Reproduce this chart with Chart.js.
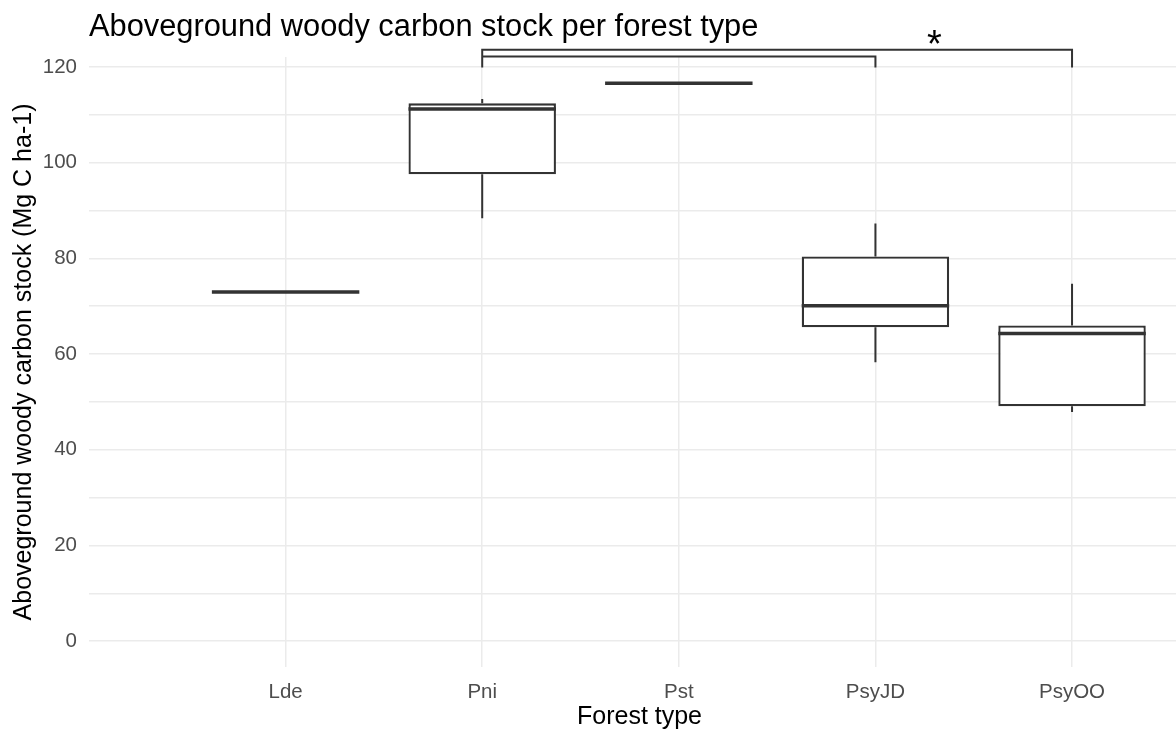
<!DOCTYPE html>
<html>
<head>
<meta charset="utf-8">
<script src="https://cdn.jsdelivr.net/npm/chart.js@4.4.1/dist/chart.umd.min.js"></script>
<style>
    html, body { margin: 0; padding: 0; background: #ffffff; overflow: hidden; }
</style>
</head>
<body>
<canvas id="chart" width="1190" height="731"></canvas>
<script>
// data
const categories = ["Lde", "Pni", "Pst", "PsyJD", "PsyOO"];
const whiskerLow = [73.0, 88.4, 116.6, 58.3, 47.9];
const boxLow = [73.0, 97.6, 116.6, 65.6, 49.1];
const medians = [73.0, 111.2, 116.6, 70.1, 64.3];
const boxHigh = [73.0, 112.4, 116.6, 80.4, 66.0];
const whiskerHigh = [73.0, 113.3, 116.6, 87.3, 74.7];
const yTicks = [0, 10, 20, 30, 40, 50, 60, 70, 80, 90, 100, 110, 120];

// significance brackets: [from, to, bar level, leg end]
const brackets = [
    ["Pni", "PsyJD", 122.2, 119.9],
    ["Pni", "PsyOO", 123.6, 119.9],
];
const sigText = "*";
const sigPos = [4.3, 126.7];

const FONT = '"Liberation Sans", Arial, sans-serif';
const DARK = "#333333";
const GRID = "#EBEBEB";
const BOX_WIDTH = 0.75;

Chart.defaults.font.family = FONT;

const pos = (name) => categories.indexOf(name) + 1;

const boxData = categories.map((c, i) => ({ x: i + 1, y: [boxLow[i], boxHigh[i]] }));

const whiskerData = [];
categories.forEach((c, i) => {
    whiskerData.push({ x: i + 1, y: whiskerLow[i] }, { x: i + 1, y: boxLow[i] }, { x: i + 1, y: null });
    whiskerData.push({ x: i + 1, y: boxHigh[i] }, { x: i + 1, y: whiskerHigh[i] }, { x: i + 1, y: null });
});

const medianData = [];
categories.forEach((c, i) => {
    medianData.push(
        { x: i + 1 - BOX_WIDTH / 2, y: medians[i] },
        { x: i + 1 + BOX_WIDTH / 2, y: medians[i] },
        { x: i + 1, y: null }
    );
});

const bracketData = [];
brackets.forEach((b) => {
    const a = pos(b[0]);
    const z = pos(b[1]);
    bracketData.push({ x: a, y: b[3] }, { x: a, y: b[2] }, { x: z, y: b[2] }, { x: z, y: b[3] }, { x: z, y: null });
});

const sigPlugin = {
    id: "sigLabel",
    afterDatasetsDraw(chart) {
        const { ctx, scales } = chart;
        const size = 38;
        ctx.save();
        ctx.font = size + "px " + FONT;
        ctx.fillStyle = "#000000";
        ctx.textAlign = "center";
        ctx.textBaseline = "alphabetic";
        ctx.fillText(
            sigText,
            scales.x.getPixelForValue(sigPos[0]),
            scales.y.getPixelForValue(sigPos[1]) + size * 0.57
        );
        ctx.restore();
    },
};

const lineStyle = {
    type: "line",
    borderColor: DARK,
    pointRadius: 0,
    spanGaps: false,
    tension: 0,
    fill: false,
};

new Chart(document.getElementById("chart"), {
    type: "bar",
    data: {
        datasets: [
            { ...lineStyle, label: "whiskers", data: whiskerData, borderWidth: 2, order: 3 },
            {
                label: "boxes",
                data: boxData,
                backgroundColor: "#ffffff",
                borderColor: DARK,
                borderWidth: 2.3,
                borderSkipped: false,
                barPercentage: BOX_WIDTH,
                categoryPercentage: 1,
                order: 2,
            },
            { ...lineStyle, label: "medians", data: medianData, borderWidth: 3.5, borderCapStyle: "butt", order: 1 },
            { ...lineStyle, label: "brackets", data: bracketData, borderWidth: 2, clip: false, order: 0 },
        ],
    },
    options: {
        responsive: false,
        devicePixelRatio: 1,
        animation: false,
        layout: { padding: 0 },
        plugins: {
            legend: { display: false },
            tooltip: { enabled: false },
            title: {
                display: true,
                text: "Aboveground woody carbon stock per forest type",
                align: "start",
                fullSize: false,
                color: "#000000",
                font: { size: 30.8, weight: "normal", lineHeight: 1.2 },
                padding: { top: 9.1, bottom: 10.9 },
            },
        },
        scales: {
            x: {
                type: "linear",
                min: 0,
                max: 5.6,
                offset: false,
                afterBuildTicks: (s) => {
                    s.ticks = categories.map((c, i) => ({ value: i + 1 }));
                },
                afterFit: (s) => {
                    s.height = 64;
                },
                grid: { color: GRID, lineWidth: 1.5, drawTicks: false, offset: false },
                border: { display: false },
                ticks: {
                    padding: 13,
                    color: "#4D4D4D",
                    font: { size: 20.5 },
                    autoSkip: false,
                    maxRotation: 0,
                    callback: (v) => categories[v - 1],
                },
                title: {
                    display: true,
                    text: "Forest type",
                    color: "#000000",
                    font: { size: 25, lineHeight: 1.1 },
                    padding: { top: 0, bottom: 0 },
                },
            },
            y: {
                type: "linear",
                min: -5.4,
                max: 122.1,
                afterBuildTicks: (s) => {
                    s.ticks = yTicks.map((v) => ({ value: v }));
                },
                afterFit: (s) => {
                    s.width = 89;
                },
                grid: { color: GRID, lineWidth: 1.5, drawTicks: false },
                border: { display: false },
                ticks: {
                    padding: 12,
                    color: "#4D4D4D",
                    font: { size: 20.5 },
                    autoSkip: false,
                    callback: (v) => (v % 20 === 0 ? v : ""),
                },
                title: {
                    display: true,
                    text: "Aboveground woody carbon stock (Mg C ha-1)",
                    color: "#000000",
                    font: { size: 25, lineHeight: 1.2 },
                    padding: { top: 9.3, bottom: 0 },
                },
            },
        },
    },
    plugins: [sigPlugin],
});
</script>
</body>
</html>
